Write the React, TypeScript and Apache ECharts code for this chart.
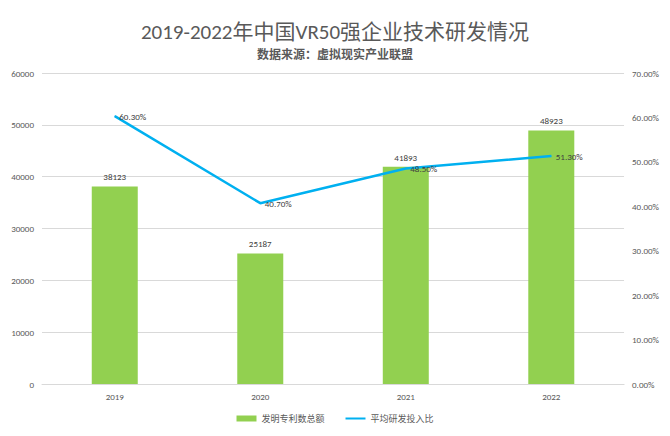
import React, { useEffect, useRef } from "react";
import * as echarts from "echarts";

const categories = ["2019", "2020", "2021", "2022"];
const patents = [38123, 25187, 41893, 48923];
const rdRatio = [60.3, 40.7, 48.5, 51.3];
const titleText = "2019-2022年中国VR50强企业技术研发情况";
const subtitleText = "数据来源：虚拟现实产业联盟";
const barName = "发明专利数总额";
const lineName = "平均研发投入比";

export default function App() {
  const ref = useRef<HTMLDivElement>(null);
  useEffect(() => {
    const chart = echarts.init(ref.current!, null, { renderer: "svg" });
    const font = "Calibri, Carlito, 'Liberation Sans', 'Noto Sans CJK SC', sans-serif";
    chart.setOption({
      animation: false,
      backgroundColor: "#fff",
      title: [
        {
          text: titleText,
          left: "center",
          top: 8,
          textStyle: { fontSize: 21, fontWeight: "normal", color: "#595959", fontFamily: font },
        },
        {
          text: subtitleText,
          left: "center",
          top: 36,
          textStyle: { fontSize: 12, fontWeight: "bold", color: "#595959", fontFamily: font },
        },
      ],
      legend: {
        bottom: 0,
        left: "center",
        itemGap: 20,
        itemWidth: 20,
        itemHeight: 6,
        textStyle: { fontSize: 9, color: "#595959", fontFamily: font },
        data: [
          { name: barName, icon: "rect" },
          { name: lineName, itemStyle: { opacity: 0 } },
        ],
      },
      grid: { left: 34, right: 36, top: 65, bottom: 44 },
      xAxis: {
        type: "category",
        data: categories,
        axisTick: { show: false },
        axisLine: { lineStyle: { color: "#D9D9D9" } },
        axisLabel: { color: "#595959", fontSize: 9, fontFamily: font, margin: 8 },
      },
      yAxis: [
        {
          type: "value",
          min: 0,
          max: 60000,
          interval: 10000,
          axisLabel: {
            color: "#595959",
            fontSize: 9,
            fontFamily: font,
            margin: 8,
            formatter: (v: number) => String(v),
          },
          splitLine: { lineStyle: { color: "#D9D9D9" } },
          axisLine: { show: false },
        },
        {
          type: "value",
          min: 0,
          max: 70,
          interval: 10,
          axisLabel: {
            color: "#595959",
            fontSize: 9,
            fontFamily: font,
            margin: 8,
            formatter: (v: number) => v.toFixed(2) + "%",
          },
          splitLine: { show: false },
          axisLine: { show: false },
        },
      ],
      series: [
        {
          name: barName,
          type: "bar",
          data: patents,
          barWidth: 46,
          itemStyle: { color: "#92D050" },
          label: { show: true, position: "top", color: "#404040", fontSize: 9, fontFamily: font },
        },
        {
          name: lineName,
          type: "line",
          yAxisIndex: 1,
          data: rdRatio,
          symbol: "circle",
          symbolSize: 1,
          lineStyle: { color: "#00B0F0", width: 2.5 },
          itemStyle: { color: "#00B0F0" },
          label: {
            show: true,
            position: "right",
            distance: 4,
            color: "#404040",
            fontSize: 9,
            fontFamily: font,
            formatter: (p: any) => p.value.toFixed(2) + "%",
          },
        },
      ],
    });
    return () => chart.dispose();
  }, []);
  return <div ref={ref} style={{ width: 654, height: 420 }} />;
}
